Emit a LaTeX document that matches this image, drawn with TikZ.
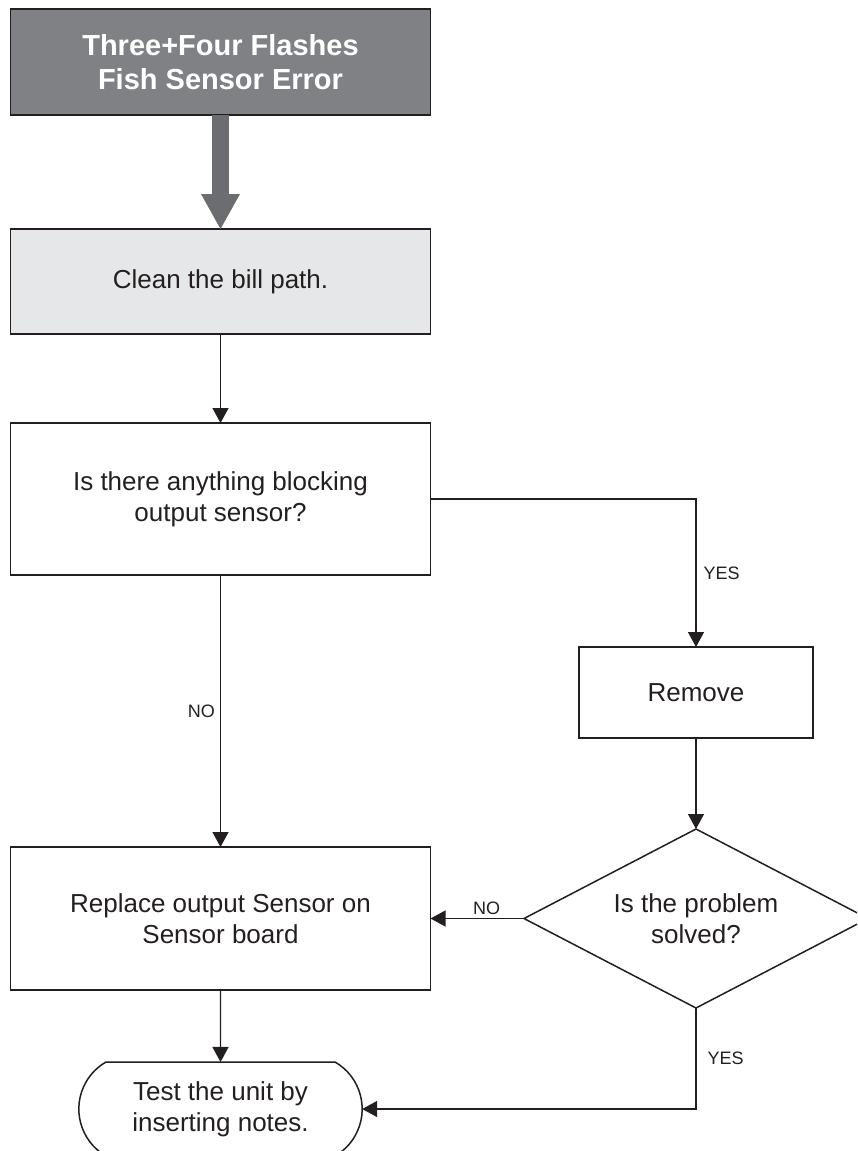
\documentclass[tikz,border=0pt]{standalone}
\usepackage{fontspec}
\setmainfont{Liberation Sans}
\usepackage{xcolor}
\usepackage{tikz}
\usetikzlibrary{shapes,arrows.meta,positioning}

\definecolor{linegray}{RGB}{35,31,32}
\definecolor{headgray}{RGB}{128,129,133}
\definecolor{fatgray}{RGB}{108,109,113}
\definecolor{cleangray}{RGB}{230,231,232}

\begin{document}
\begin{tikzpicture}[
    x=1pt, y=1pt,
    box/.style={rectangle, draw=linegray, line width=1.8pt, outer sep=0pt, minimum width=420pt, align=center, text=linegray, font=\fontsize{26}{31}\selectfont},
    head/.style={box, line width=1.4pt, fill=headgray, text=white, font=\fontsize{29}{34}\selectfont\bfseries},
    decision/.style={diamond, draw=linegray, line width=1.5pt, outer sep=0pt, aspect=1.92, minimum width=344pt, minimum height=179pt, inner sep=0pt, align=center, text=linegray, font=\fontsize{26}{31}\selectfont},
    terminal/.style={rounded rectangle, rounded rectangle arc length=120, draw=linegray, line width=1.5pt, outer sep=0pt, minimum width=290pt, minimum height=94pt, align=center, text=linegray, font=\fontsize{26}{31}\selectfont},
    arrow/.style={-{Triangle[width=16pt,length=15pt]}, line width=1.3pt, draw=linegray},
    fat/.style={-{Triangle[width=39pt,length=35pt,line width=0pt]}, line width=17pt, draw=fatgray},
    answer/.style={font=\fontsize{18}{20}\selectfont, text=linegray, inner sep=0pt},
]
    \useasboundingbox (0,0) rectangle (857,-1151);
    \clip (0,0) rectangle (857,-1151);

    % Main column
    \node[head, minimum height=106pt] (title) at (220.5,-62) {Three+Four Flashes\\Fish Sensor Error};
    \node[box, fill=cleangray, minimum height=105pt, below=114pt of title] (clean) {Clean the bill path.};
    \node[box, minimum height=152pt, below=89pt of clean] (block) {Is there anything blocking\\output sensor?};
    \node[box, minimum height=143pt, below=272pt of block] (replace) {Replace output Sensor on\\Sensor board};
    \node[terminal, below=72pt of replace] (test) {Test the unit by\\inserting notes.};

    % Right column
    \node[box, minimum width=234pt, minimum height=91pt] (remove) at (696,-692.5) {Remove};
    \node[decision, below=91pt of remove] (dia) {Is the problem\\solved?};

    % Arrows
    \draw[fat] (title) -- (clean);
    \draw[arrow] (clean) -- (block);
    \draw[arrow] (block.east) -| node[answer, pos=0.75, right=7pt] (yes1) {YES} (remove.north);
    \draw[arrow] (block) -- node[answer, left=5pt] (no1) {NO} (replace);
    \draw[arrow] (remove) -- (dia);
    \draw[arrow] (dia.west) -- node[answer, pos=0.4, above=3pt] (no2) {NO} (replace.east);
    \draw[arrow] (replace) -- (test);
    \draw[arrow] (dia.south) |- node[answer, pos=0.25, right=11pt] (yes2) {YES} (test.east);

\end{tikzpicture}
\end{document}
